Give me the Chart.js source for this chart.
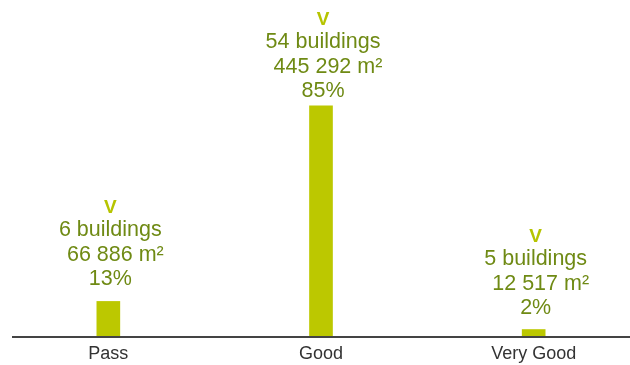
<!DOCTYPE html>
<html>
<head>
<meta charset="utf-8">
<script src="https://cdn.jsdelivr.net/npm/chart.js@4"></script>
<style>
  html, body { margin: 0; padding: 0; background: #fff; overflow: hidden; }
  #wrap { width: 640px; height: 365px; }
</style>
</head>
<body>
<div id="wrap"><canvas id="ratings"></canvas></div>
<script>
const categories = ["Pass", "Good", "Very Good"]
const area = [66886, 445292, 12517]
const buildings = [6, 54, 5]
const areaLabels = ["66 886", "445 292", "12 517"]
const shares = ["13%", "85%", "2%"]
const marks = ["V", "V", "V"]

// labels stacked above each bar, kept inside the canvas at the top
const barLabels = {
  id: "barLabels",
  afterDatasetsDraw(chart) {
    const ctx = chart.ctx
    const meta = chart.getDatasetMeta(0)
    ctx.save()
    ctx.textAlign = "center"
    ctx.textBaseline = "alphabetic"
    meta.data.forEach((bar, i) => {
      const x = bar.x + 2
      let y = Math.max(bar.y - 16, 25 + 72)
      ctx.fillStyle = "#6f8a14"
      ctx.font = "21.5px 'Liberation Sans', Arial, sans-serif"
      ctx.fillText(shares[i], x, y)
      y -= 24
      ctx.fillText(" " + areaLabels[i] + " m²", x + 2, y)
      y -= 25
      ctx.fillText(buildings[i] + " buildings", x, y)
      y -= 23
      ctx.fillStyle = "#b6c400"
      ctx.font = "bold 19px 'Liberation Sans', Arial, sans-serif"
      ctx.fillText(marks[i], x, y)
    })
    // baseline
    const area = chart.chartArea
    ctx.strokeStyle = "#444"
    ctx.lineWidth = 2
    ctx.beginPath()
    ctx.moveTo(area.left + 10, area.bottom + 1)
    ctx.lineTo(area.right, area.bottom + 1)
    ctx.stroke()
    ctx.restore()
  },
}

new Chart(document.getElementById("ratings"), {
  type: "bar",
  data: {
    labels: categories,
    datasets: [
      {
        data: area,
        backgroundColor: "#bcc800",
        barThickness: 23,
      },
    ],
  },
  options: {
    responsive: true,
    maintainAspectRatio: false,
    animation: false,
    layout: { padding: { left: 2, top: 0, bottom: 0 } },
    scales: {
      x: {
        grid: { display: false, drawTicks: false },
        border: { display: false },
        afterFit(scale) {
          scale.height = 29
        },
        ticks: {
          color: "#333",
          padding: 13,
          font: { family: "'Liberation Sans', Arial, sans-serif", size: 18, lineHeight: "10px" },
        },
      },
      y: {
        display: false,
        min: 0,
        max: 650000,
      },
    },
    plugins: {
      legend: { display: false },
      tooltip: { enabled: false },
    },
  },
  plugins: [barLabels],
})
</script>
</body>
</html>
